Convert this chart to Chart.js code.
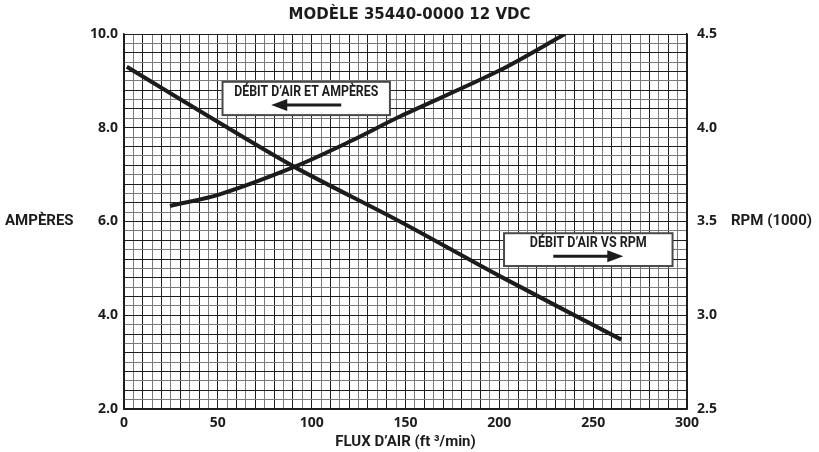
<!DOCTYPE html>
<html>
<head>
<meta charset="utf-8">
<script src="https://cdn.jsdelivr.net/npm/chart.js@4.4.1/dist/chart.umd.min.js"></script>
<style>
  html, body { margin: 0; padding: 0; background: #fff; }
  #wrap { width: 819px; height: 452px; }
</style>
</head>
<body>
<div id="wrap"><canvas id="fanChart" width="819" height="452"></canvas></div>
<script>
// values (airflow in ft3/min)
const ampFlow = [24.5, 51, 91, 120, 147, 200, 235];
const ampValues = [6.33, 6.58, 7.17, 7.70, 8.24, 9.22, 10.0];
const rpmFlow = [1.5, 51, 91, 147, 200, 265];
const rpmValues = [4.325, 4.025, 3.79, 3.5, 3.21, 2.87];

const xTickLabels = [0, 50, 100, 150, 200, 250, 300];
const ampTickLabels = [2, 4, 6, 8, 10];
const rpmTickLabels = [2.5, 3.0, 3.5, 4.0, 4.5];

const chartTitle = "MODÈLE 35440-0000 12 VDC";
const xTitle = "FLUX D’AIR (ft ³/min)";
const leftTitle = "AMPÈRES";
const rightTitle = "RPM (1000)";
const ampNote = "DÉBIT D’AIR ET AMPÈRES";
const rpmNote = "DÉBIT D’AIR VS RPM";

const tickFont = { family: "'Open Sans', sans-serif", size: 14, weight: "bold" };
const narrowFont = "bold 15px Roboto, 'Open Sans', sans-serif";
const ink = "#1c1c1c";

function near(v, list) {
  return list.some(t => Math.abs(v - t) < 1e-6);
}
function gridColor(ctx) {
  return ctx.index % 2 ? "#7a7a7a" : "#1e1e1e";
}

// draw text squeezed to a given width (the original uses a condensed face)
function squeezed(ctx, text, x, y, width, align) {
  const w = ctx.measureText(text).width;
  const k = Math.min(1, width / w);
  ctx.save();
  ctx.translate(x, y);
  ctx.scale(k, 1);
  ctx.textAlign = align;
  ctx.fillText(text, 0, 0);
  ctx.restore();
}

// side labels + the two note boxes with arrows
const notesPlugin = {
  id: "notes",
  afterDatasetsDraw(chart) {
    const { ctx, chartArea, scales } = chart;
    const midY = (chartArea.top + chartArea.bottom) / 2;
    ctx.save();
    ctx.fillStyle = ink;
    ctx.font = narrowFont;
    ctx.textBaseline = "middle";
    squeezed(ctx, leftTitle, 5, midY, 72, "left");
    squeezed(ctx, rightTitle, 731, midY, 86, "left");

    function noteBox(x0, x1, y0, y1, label, textW, dir) {
      const l = scales.x.getPixelForValue(x0), r = scales.x.getPixelForValue(x1);
      const t = scales.y.getPixelForValue(y0), b = scales.y.getPixelForValue(y1);
      ctx.fillStyle = "#fff";
      ctx.fillRect(l, t, r - l, b - t);
      ctx.strokeStyle = "#4a4a4a";
      ctx.lineWidth = 2;
      ctx.strokeRect(l, t, r - l, b - t);
      const cx = (l + r) / 2;
      ctx.fillStyle = ink;
      squeezed(ctx, label, cx, t + (b - t) * 0.3, textW, "center");
      // arrow
      const ay = t + (b - t) * 0.7;
      const a0 = cx - 35, a1 = cx + 35;
      ctx.strokeStyle = ink;
      ctx.lineWidth = 3;
      ctx.beginPath();
      if (dir < 0) { ctx.moveTo(a0 + 10, ay); ctx.lineTo(a1, ay); }
      else { ctx.moveTo(a0, ay); ctx.lineTo(a1 - 10, ay); }
      ctx.stroke();
      const tip = dir < 0 ? a0 : a1;
      ctx.beginPath();
      ctx.moveTo(tip, ay);
      ctx.lineTo(tip - dir * 16, ay - 6);
      ctx.lineTo(tip - dir * 16, ay + 6);
      ctx.closePath();
      ctx.fill();
    }
    noteBox(52.5, 141.7, 8.98, 8.27, ampNote, 144, -1);
    noteBox(202.5, 292.3, 5.75, 5.05, rpmNote, 117, 1);
    ctx.restore();
  }
};

new Chart(document.getElementById("fanChart"), {
  type: "line",
  data: {
    datasets: [
      {
        label: "Ampères",
        data: ampFlow.map((f, i) => ({ x: f, y: ampValues[i] })),
        yAxisID: "y",
        borderColor: ink,
        borderWidth: 4,
        pointRadius: 0,
        tension: 0.3
      },
      {
        label: "RPM",
        data: rpmFlow.map((f, i) => ({ x: f, y: rpmValues[i] })),
        yAxisID: "y1",
        borderColor: ink,
        borderWidth: 4,
        pointRadius: 0,
        tension: 0.3
      }
    ]
  },
  options: {
    responsive: false,
    animation: false,
    layout: { padding: 0 },
    plugins: {
      legend: { display: false },
      tooltip: { enabled: false },
      title: {
        display: true,
        text: chartTitle,
        color: ink,
        font: { family: "'DejaVu Sans', sans-serif", size: 15, weight: "bold" },
        padding: { top: 6, bottom: 10 }
      }
    },
    scales: {
      x: {
        type: "linear",
        min: 0,
        max: 300,
        afterFit(scale) { scale.height = 43; },
        ticks: {
          stepSize: 5,
          autoSkip: false,
          maxRotation: 0,
          padding: 6,
          color: ink,
          font: tickFont,
          callback: v => near(v, xTickLabels) ? String(Math.round(v)) : ""
        },
        grid: { color: gridColor, lineWidth: 1, drawTicks: false },
        border: { color: ink, width: 1.5 },
        title: {
          display: true,
          text: xTitle,
          color: ink,
          font: { family: "Roboto, sans-serif", size: 15, weight: "bold" },
          padding: { top: 0, bottom: 1 }
        }
      },
      y: {
        position: "left",
        min: 2,
        max: 10,
        afterFit(scale) { scale.width = 124; },
        ticks: {
          stepSize: 0.2,
          autoSkip: false,
          padding: 6,
          color: ink,
          font: tickFont,
          callback: v => near(v, ampTickLabels) ? v.toFixed(1) : ""
        },
        grid: { color: gridColor, lineWidth: 1, drawTicks: false },
        border: { color: ink, width: 1.5 }
      },
      y1: {
        position: "right",
        min: 2.5,
        max: 4.5,
        afterFit(scale) { scale.width = 132; },
        ticks: {
          stepSize: 0.5,
          padding: 10,
          color: ink,
          font: tickFont,
          callback: v => near(v, rpmTickLabels) ? v.toFixed(1) : ""
        },
        grid: { display: false, drawTicks: false },
        border: { color: ink, width: 1.5 }
      }
    }
  },
  plugins: [notesPlugin]
});
</script>
</body>
</html>
